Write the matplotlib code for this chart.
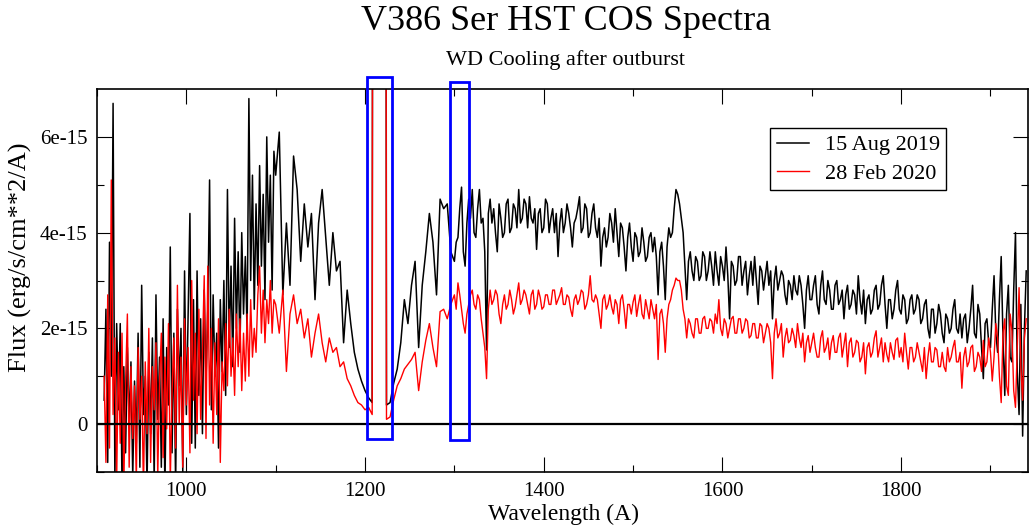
import matplotlib
matplotlib.use("Agg")
import matplotlib.pyplot as plt
import matplotlib.patches as patches
from matplotlib.ticker import MultipleLocator, FixedLocator, FuncFormatter
import numpy as np

plt.rcParams['font.family'] = ['Liberation Serif', 'DejaVu Serif']

# wavelength grid (A): 2 A steps to 1100, 4 A steps to 1300, 2 A steps after
wave = np.concatenate([np.arange(908, 1100, 2), np.arange(1100, 1300, 4), np.arange(1300, 1942, 2)])

# flux in units of 1e-15 erg/s/cm^2/A
# 15 Aug 2019
aug_a = [0.5, 2.4, -0.8, 3.8, 1.0, 6.7, -1.2, 2.1, 0.3, 2.1,
         -1.3, 1.2, -0.6, 1.6, 0.0, 1.3, -1.1, 0.9, -0.4, 1.9,
         -0.9, 2.9, 0.2, 1.0, -1.3, 1.5, -0.2, 1.8, -1.2, 2.7,
         0.1, 1.4, -0.9, 2.2, -1.4, 1.6, 0.4, 3.7, -0.6, 1.9,
         -1.3, 2.4, 0.8, 2.0, -1.0, 3.2, 0.2, 2.3, 4.4, -0.4,
         2.6, -0.5, 3.2, 0.6, 2.2, -0.2, 2.8, 0.9, 2.4, 5.1,
         0.3, 2.7, 1.0, 1.9, -0.5, 2.6, 1.1, 3.0, 0.6, 4.9,
         1.6, 3.3, 1.2, 4.3, 2.0, 3.6, 1.5, 4.0, 2.3, 3.5,
         1.9, 6.8, 3.0, 5.2, 2.4, 4.6, 2.9, 5.4, 3.3, 4.8,
         2.6, 6.0, 3.8, 5.2, 2.8, 5.7]
aug_b = [5.2, 6.1, 2.7, 4.2, 2.9, 5.6, 4.9, 3.4, 4.6, 3.7,
         4.4, 2.6, 4.2, 4.9, 3.9, 2.9, 4.0, 3.2, 3.4, 1.7,
         2.8, 2.1, 1.5, 1.15, 0.9, 0.7, 0.55, 0.45, 90, 90,
         90, 0.4, 0.45, 0.85, 1.15, 1.7, 2.6, 2.1, 2.9, 3.4,
         1.6, 2.9, 3.6, 4.4, 3.8, 2.7, 4.7, 4.5, 4.6, 3.6]
aug_c = [3.4, 3.8, 3.9, 4.5, 4.95, 3.6, 3.3, 4.2, 4.7, 4.3, 4.9, 4.0, 3.9, 4.5, 4.9, 4.2, 4.3, 3.6, 1.55, 4.4,
         4.7, 4.2, 4.5, 4.0, 3.6, 4.6, 4.3, 3.9, 4.0, 4.6, 4.7, 4.0, 4.1, 4.6, 4.5, 4.1, 4.9, 4.2, 4.3, 4.7,
         4.6, 4.1, 4.75, 4.3, 4.2, 4.5, 3.65, 4.4, 4.5, 4.0, 4.1, 4.7, 4.6, 4.0, 4.3, 4.5, 4.0, 4.4, 3.5, 4.2,
         4.5, 4.0, 4.2, 4.6, 4.4, 4.1, 3.7, 4.2, 4.3, 4.5, 4.75, 4.0, 4.1, 4.6, 4.5, 3.9, 4.0, 4.4, 4.6, 4.1,
         3.9, 4.3, 3.3, 3.9, 4.1, 3.7, 3.9, 4.4, 4.2, 3.8, 4.5, 4.0, 3.5, 4.2, 4.1, 3.7, 3.2, 3.9, 4.2, 3.7,
         3.4, 4.0, 3.9, 3.5, 3.6, 4.1, 3.8, 3.4, 3.5, 3.9, 4.0, 3.6, 3.9, 3.5, 2.7, 3.6, 3.8, 3.3, 2.6, 3.7,
         4.1, 3.9, 4.0, 4.5, 4.9, 4.8, 4.6, 4.3, 4.0, 3.3, 2.6, 3.4, 3.6, 3.2, 3.0, 3.5, 3.4, 3.0, 3.1, 3.6,
         3.5, 3.0, 3.2, 3.6, 3.3, 2.9, 3.6, 3.2, 2.9, 3.5, 3.3, 3.0, 3.7, 3.1, 2.2, 3.4, 3.3, 2.9, 3.0, 3.5,
         3.5, 2.9, 3.2, 3.4, 2.7, 3.1, 3.4, 2.9, 3.5, 3.0, 2.5, 3.3, 3.2, 2.8, 3.1, 3.4, 2.9, 3.2, 2.2, 3.0,
         3.3, 2.8, 3.0, 3.2, 3.1, 2.7, 2.5, 3.0, 2.9, 2.6, 3.1, 2.8, 2.7, 3.1, 2.9, 2.5, 2.0, 2.8, 3.1, 2.6,
         2.6, 2.9, 3.1, 2.5, 2.3, 2.9, 3.2, 2.6, 2.5, 3.0, 2.8, 2.4, 2.4, 2.9, 3.0, 2.5, 2.6, 2.8, 2.2, 2.7,
         2.9, 2.4, 2.5, 2.8, 2.7, 2.3, 3.1, 2.6, 2.3, 2.8, 2.1, 2.6, 2.7, 2.3, 2.4, 2.8, 2.9, 2.4, 2.5, 2.9,
         3.1, 2.5, 2.0, 2.6, 2.6, 2.2, 2.4, 2.8, 3.0, 2.4, 2.3, 2.7, 2.6, 2.1, 2.2, 2.6, 2.7, 2.3, 2.4, 2.7,
         2.6, 2.1, 2.2, 2.5, 2.6, 2.0, 1.8, 2.4, 2.4, 1.9, 2.1, 2.5, 2.3, 1.9, 1.7, 2.3, 2.2, 1.9, 2.0, 2.4,
         2.6, 2.0, 1.9, 2.3, 1.8, 2.2, 2.3, 1.7, 2.0, 2.4, 2.9, 1.9, 1.8, 2.5, 2.3, 1.6, 0.95, 2.1, 2.2, 1.7,
         1.6, 2.4, 3.1, 1.9, 1.5, 2.6, 3.5, 1.8, 0.6, 2.3, 2.9, 1.4, 1.3, 2.8, 4.0, 1.1, 0.2, 2.5, -0.25, 2.0,
         3.2]

# 28 Feb 2020
feb_a = [1.0, -0.8, 2.7, -0.5, 5.1, 0.2, 1.8, -1.2, 1.5, -0.4,
         1.9, -1.3, 0.9, 2.3, -0.9, 1.2, -0.3, 0.8, -1.2, 1.6,
         0.1, 1.0, -1.4, 1.3, -0.2, 2.0, -0.8, 1.2, 0.3, 1.7,
         -1.1, 0.9, 1.9, -0.7, 1.4, -0.1, 2.1, -1.2, 0.7, 1.8,
         -0.5, 2.9, 0.0, 1.4, -0.9, 2.2, 0.4, 1.6, -0.6, 3.0,
         0.5, 1.9, -0.2, 2.4, 0.1, 1.5, 3.1, -0.3, 3.3, 0.4,
         2.0, -0.4, 1.7, 0.2, 2.2, -0.8, 1.3, 0.7, 2.1, 0.8,
         2.4, 1.0, 1.8, 0.6, 2.3, 1.2, 2.2, 0.7, 1.9, 0.9,
         2.3, 1.0, 2.6, 1.4, 2.0, 1.5, 2.7, 3.3, 1.9, 2.8,
         1.7, 2.6, 2.1, 3.0, 1.9, 2.6]
feb_b = [2.5, 1.9, 2.8, 1.1, 2.3, 2.7, 2.1, 2.4, 1.8, 2.2,
         1.4, 1.9, 2.3, 1.7, 1.3, 1.8, 1.5, 1.6, 1.2, 1.3,
         0.95, 0.8, 0.6, 0.45, 0.4, 0.3, 0.35, 0.2, 90, 90,
         90, 0.1, 0.15, 0.5, 0.8, 0.95, 1.15, 1.25, 1.35, 1.5,
         0.7, 1.3, 1.75, 2.1, 1.6, 1.2, 2.35, 2.4, 2.2, 2.5]
feb_c = [2.7, 2.4, 2.95, 2.7, 2.4, 2.1, 1.9, 2.3, 2.5, 2.7, 2.8, 2.5, 2.4, 2.7, 2.6, 2.2, 1.9, 1.6, 0.95, 2.4,
         2.8, 2.5, 2.6, 2.8, 2.7, 2.3, 2.1, 2.5, 2.7, 2.4, 2.5, 2.8, 2.6, 2.3, 2.45, 2.7, 2.95, 2.5, 2.6, 2.8,
         2.7, 2.5, 2.3, 2.7, 2.8, 2.4, 2.5, 2.8, 2.65, 2.4, 2.45, 2.7, 2.7, 2.5, 2.5, 2.8, 2.8, 2.5, 2.6, 2.7,
         2.85, 2.5, 2.5, 2.7, 2.65, 2.4, 2.25, 2.6, 2.7, 2.5, 2.6, 2.8, 2.75, 2.4, 2.5, 2.7, 3.1, 2.6, 2.55, 2.7,
         2.6, 2.3, 2.0, 2.6, 2.7, 2.4, 2.5, 2.7, 2.45, 2.3, 2.6, 2.5, 2.1, 2.6, 2.7, 2.4, 2.0, 2.5, 2.5, 2.3,
         2.55, 2.7, 2.25, 2.5, 2.7, 2.3, 2.2, 2.6, 2.4, 2.2, 2.6, 2.4, 2.2, 2.5, 1.35, 2.3, 2.4, 2.1, 1.5, 2.2,
         2.5, 2.6, 2.8, 2.9, 3.05, 3.0, 3.0, 2.8, 2.4, 2.2, 1.8, 2.2, 2.1, 1.9, 1.8, 2.2, 2.2, 1.9, 1.9, 2.2,
         2.25, 2.0, 2.0, 2.2, 2.15, 1.9, 2.3, 2.1, 2.6, 2.0, 1.85, 2.2, 2.1, 1.8, 2.0, 2.2, 2.25, 1.9, 1.9, 2.2,
         2.2, 1.9, 2.0, 2.2, 2.15, 1.8, 1.85, 2.1, 2.1, 1.8, 1.8, 2.1, 2.05, 1.7, 1.9, 2.1, 2.0, 1.7, 0.95, 1.9,
         2.2, 1.8, 1.9, 2.1, 1.4, 1.8, 2.0, 1.7, 1.75, 2.0, 1.85, 1.6, 2.1, 1.8, 1.6, 1.9, 1.3, 1.7, 1.85, 1.5,
         1.7, 1.9, 1.6, 1.4, 1.4, 1.8, 1.95, 1.5, 1.6, 1.8, 1.35, 1.7, 1.85, 1.5, 1.5, 1.8, 1.9, 1.4, 1.65, 1.9,
         1.2, 1.7, 1.8, 1.4, 1.5, 1.75, 1.7, 1.3, 1.4, 1.7, 1.05, 1.6, 1.7, 1.4, 1.5, 1.8, 1.95, 1.4, 1.6, 1.8,
         1.3, 1.7, 1.45, 1.3, 1.7, 1.5, 1.35, 1.75, 1.8, 1.4, 1.6, 1.3, 1.9, 1.5, 1.15, 1.6, 1.6, 1.3, 1.4, 1.7,
         1.5, 1.3, 1.1, 1.6, 0.95, 1.4, 1.7, 1.3, 1.3, 1.6, 1.55, 1.2, 1.2, 1.5, 1.2, 1.1, 1.6, 1.3, 1.4, 1.6,
         1.75, 1.3, 1.3, 1.5, 0.75, 1.4, 1.6, 1.2, 1.3, 1.6, 1.65, 1.1, 1.2, 1.5, 1.4, 1.1, 1.75, 1.2, 1.3, 1.8,
         1.5, 0.9, 1.4, 2.1, 1.8, 1.0, 0.45, 1.9, 2.2, 0.8, 0.6, 2.3, 1.95, 0.7, 0.35, 1.6, 2.85, 1.2, 0.5, 1.8,
         2.2]

labels = ["15 Aug 2019", "28 Feb 2020"]
y_ticks = [0, 2e-15, 4e-15, 6e-15]

# highlighted wavelength windows (A) and their vertical extent (1e-15)
boxes = [(1202, 1230, -0.31, 7.25), (1295.5, 1316.5, -0.33, 7.15)]

flux_aug = np.array(aug_a + aug_b + aug_c) * 1e-15
flux_feb = np.array(feb_a + feb_b + feb_c) * 1e-15

fig = plt.figure(figsize=(10.29, 5.29), dpi=100)
ax = fig.add_axes([97/1029, 57/529, 931/1029, 383/529])

ax.plot(wave, flux_aug, color='black', lw=1.1, label=labels[0])
ax.plot(wave, flux_feb, color='red', lw=1.0, label=labels[1])
ax.axhline(0, color='black', lw=1.6, zorder=3)

for x0, x1, y0, y1 in boxes:
    ax.add_patch(patches.Rectangle((x0, y0*1e-15), x1-x0, (y1-y0)*1e-15, fill=False,
                                   edgecolor='blue', lw=2.0, clip_on=False, zorder=4))

ax.set_xlim(900, 1942)
ax.set_ylim(-1e-15, 7e-15)
ax.xaxis.set_major_locator(MultipleLocator(200))
ax.xaxis.set_minor_locator(MultipleLocator(100))
ax.yaxis.set_major_locator(FixedLocator(y_ticks))
ax.yaxis.set_minor_locator(FixedLocator([-1e-15, 1e-15, 3e-15, 5e-15]))
ax.yaxis.set_major_formatter(FuncFormatter(lambda v, p: "0" if abs(v) < 1e-20 else "%.0e" % v))
ax.tick_params(which='both', direction='in', top=True, right=True, width=0.8, labelsize=15)
ax.tick_params(which='major', length=10.5, pad=7)
ax.tick_params(which='minor', length=5)
for s in ax.spines.values():
    s.set_linewidth(1.2)

fig.text(563/1029, 1-514/529, "Wavelength (A)", ha='center', va='center', fontsize=17)
fig.text(20/1029, 1-257/529, "Flux (erg/s/cm**2/A)", rotation=90, ha='center', va='center', fontsize=19)
fig.text(566/1029, 1-22/529, "V386 Ser HST COS Spectra", ha='center', va='center', fontsize=26)
fig.text(566/1029, 1-60/529, "WD Cooling after outburst", ha='center', va='center', fontsize=16)

leg = ax.legend(loc='upper left', bbox_to_anchor=(0.723, 0.898), borderaxespad=0, fontsize=16,
                handlelength=1.45, handletextpad=0.7, borderpad=0.3, labelspacing=0.35,
                fancybox=False, framealpha=1, edgecolor='black')
leg.get_frame().set_linewidth(1.0)

fig.savefig("out.png", dpi=100)
